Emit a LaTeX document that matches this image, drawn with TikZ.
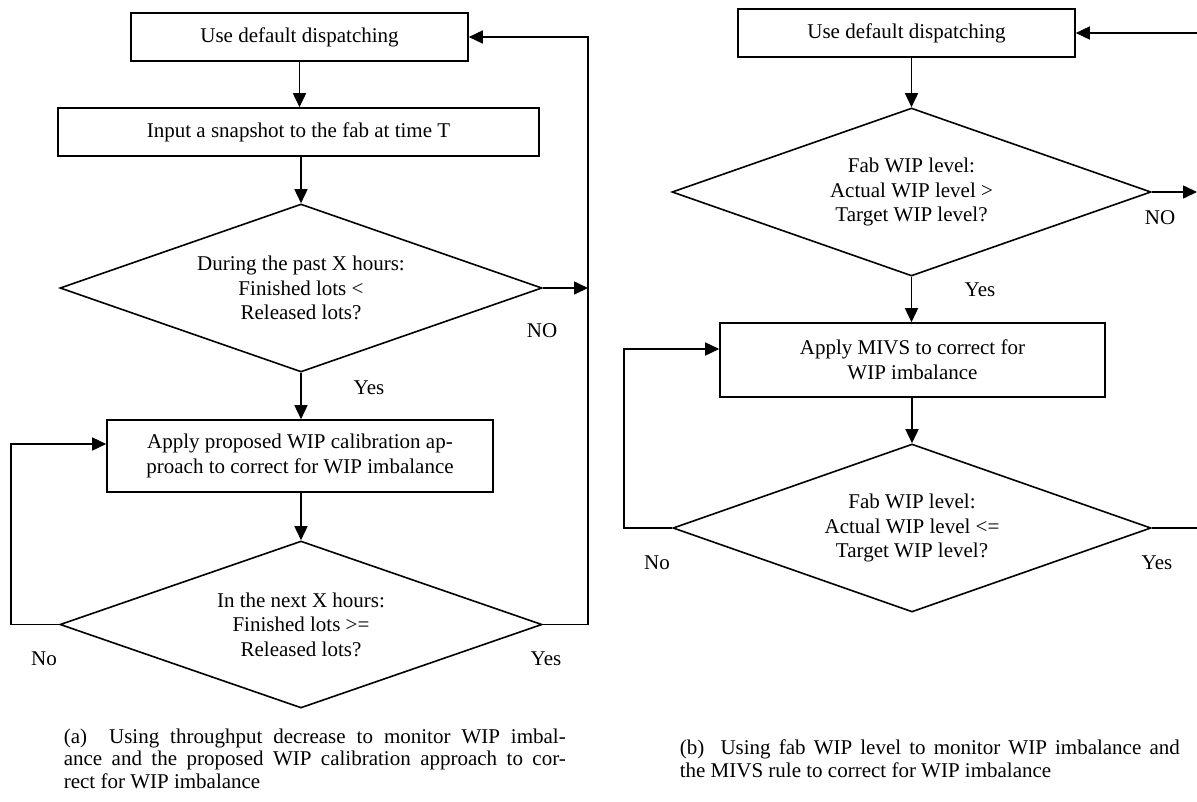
\documentclass[tikz,border=0pt]{standalone}
\usepackage{fontspec}
\setmainfont{Liberation Serif}
\usetikzlibrary{shapes.geometric,arrows.meta,calc}
\begin{document}
\begin{tikzpicture}[x=1pt,y=-1pt,
  font=\fontsize{21}{24.5}\selectfont,
  line width=1.6pt,
  >={Triangle[length=14pt,width=13pt]},
  box/.style={draw,rectangle,inner sep=0pt,align=center},
  dia/.style={draw,diamond,inner sep=0pt,align=center,aspect=2.87},
  lbl/.style={inner sep=0pt},
  captext/.style={inner sep=0pt,anchor=north west,align=justify,
    font=\fontsize{21}{22.5}\selectfont}]
\useasboundingbox (0,0) rectangle (1197,801);

% ---------- panel (a) ----------
\node[box,minimum width=337pt,minimum height=48pt] (a1) at (299.5,37) {Use default dispatching};
\node[box,minimum width=481pt,minimum height=48pt] (a2) at (298.5,132) {Input a snapshot to the fab at time T};
\node[dia,minimum width=482pt,minimum height=168pt] (a3) at (301,288) {During the past X hours:\\Finished lots <\\Released lots?};
\node[box,minimum width=386pt,minimum height=72pt] (a4) at (300,456) {Apply proposed WIP calibration ap-\\proach to correct for WIP imbalance};
\node[dia,minimum width=482pt,minimum height=167pt] (a5) at (301,624.5) {In the next X hours:\\Finished lots >=\\Released lots?};

\coordinate (ra) at (588,624.5);
\coordinate (la) at (11,624.5);

\draw[->] (a1.south) -- (a1.south |- a2.north);
\draw[->] (a3.north |- a2.south) -- (a3.north);
\draw[->] (a3.south) -- (a3.south |- a4.north);
\draw[->] (a5.north |- a4.south) -- (a5.north);
\draw[->] (a3.east) -- (a3.east -| ra);
\draw[->] (a5.east) -- (ra) -- (ra |- a1.east) -- (a1.east);
\draw[->] (a5.west) -- (la) |- ([yshift=12pt]a4.west);

\node[lbl] (noa) at (542,331) {NO};
\node[lbl] (yesa1) at (369,388) {Yes};
\node[lbl] (noa2) at (44,659) {No};
\node[lbl] (yesa2) at (546,659) {Yes};

\node[captext,text width=502pt] (capa) at (63,728)
 {(a)\ \ Using throughput decrease to monitor WIP imbal-\linebreak ance and the proposed WIP calibration approach to cor-\linebreak rect for WIP imbalance};

% ---------- panel (b) ----------
\node[box,minimum width=337pt,minimum height=48pt] (b1) at (906.5,33) {Use default dispatching};
\node[dia,minimum width=479pt,minimum height=168pt] (b2) at (911.5,192) {Fab WIP level:\\Actual WIP level >\\Target WIP level?};
\node[box,minimum width=385pt,minimum height=74pt] (b3) at (912.5,360) {Apply MIVS to correct for\\WIP imbalance};
\node[dia,minimum width=478pt,minimum height=168pt] (b4) at (912,528) {Fab WIP level:\\Actual WIP level <=\\Target WIP level?};

\coordinate (rb1) at (1197,33);
\coordinate (rb2) at (1197,192);
\coordinate (rb4) at (1197,528);
\coordinate (lb) at (624,528);

\draw[->] (rb1) -- (b1.east);
\draw[->] (b2.north |- b1.south) -- (b2.north);
\draw[->] (b2.east) -- (rb2);
\draw[->] (b2.south) -- (b2.south |- b3.north);
\draw[->] (b4.north |- b3.south) -- (b4.north);
\draw (b4.east) -- (rb4);
\draw[->] (b4.west) -- (lb) |- ([yshift=11pt]b3.west);

\node[lbl] (nob) at (1160,218) {NO};
\node[lbl] (yesb1) at (980,290) {Yes};
\node[lbl] (nob2) at (657,563) {No};
\node[lbl] (yesb2) at (1157,563) {Yes};

\node[captext,text width=500pt] (capb) at (679,739)
 {(b)\ \ Using fab WIP level to monitor WIP imbalance and\linebreak the MIVS rule to correct for WIP imbalance};
\end{tikzpicture}
\end{document}
